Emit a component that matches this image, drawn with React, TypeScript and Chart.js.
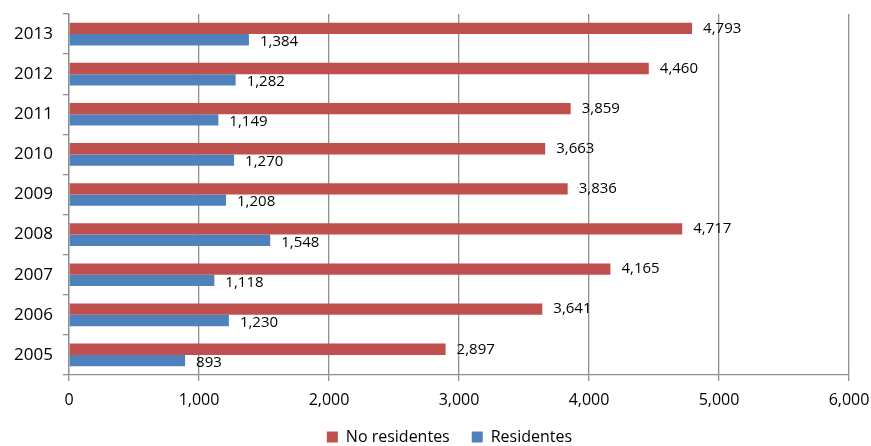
import React, { useEffect, useRef } from "react";
import { Chart, registerables } from "chart.js";

Chart.register(...registerables);

const categories = ["2013", "2012", "2011", "2010", "2009", "2008", "2007", "2006", "2005"];
const noResidentes = [4793, 4460, 3859, 3663, 3836, 4717, 4165, 3641, 2897];
const residentes = [1384, 1282, 1149, 1270, 1208, 1548, 1118, 1230, 893];
const xTicks = [0, 1000, 2000, 3000, 4000, 5000, 6000];

const FONT = "'Open Sans', 'DejaVu Sans', sans-serif";

const valueLabels = {
  id: "valueLabels",
  afterDatasetsDraw(chart: any) {
    const ctx = chart.ctx;
    ctx.save();
    ctx.font = `15px ${FONT}`;
    ctx.fillStyle = "#000";
    ctx.textAlign = "left";
    ctx.textBaseline = "middle";
    chart.data.datasets.forEach((ds: any, di: number) => {
      const meta = chart.getDatasetMeta(di);
      meta.data.forEach((bar: any, i: number) => {
        const v = ds.data[i];
        ctx.fillText(v.toLocaleString("en-US"), bar.x + 11, bar.y + (di === 1 ? 2 : 0));
      });
    });
    ctx.restore();
  },
};

const legendShift = {
  id: "legendShift",
  afterLayout(chart: any) {
    if (chart.legend) {
      chart.legend.left += 14;
      chart.legend.right += 14;
    }
  },
};

export default function App() {
  const ref = useRef<HTMLCanvasElement>(null);
  useEffect(() => {
    if (!ref.current) return;
    const chart = new Chart(ref.current, {
      type: "bar",
      data: {
        labels: categories,
        datasets: [
          { label: "No residentes", data: noResidentes, backgroundColor: "#C0504D", categoryPercentage: 0.565, barPercentage: 1.0 },
          { label: "Residentes", data: residentes, backgroundColor: "#4F81BD", categoryPercentage: 0.565, barPercentage: 1.0 },
        ],
      },
      options: {
        indexAxis: "y",
        animation: false,
        responsive: false,
        maintainAspectRatio: false,
        layout: { padding: { top: 14, right: 0, left: 0, bottom: 0 } },
        plugins: {
          tooltip: { enabled: false },
          legend: {
            position: "bottom",
            labels: {
              boxWidth: 11,
              boxHeight: 11,
              color: "#000",
              font: { family: FONT, size: 16 },
              padding: 22,
            },
          },
        },
        scales: {
          x: {
            min: 0,
            max: 6000,
            afterBuildTicks: (scale: any) => {
              scale.ticks = xTicks.map((v) => ({ value: v }));
            },
            afterFit: (scale: any) => {
              scale.height = 32;
              scale.paddingRight = 22;
              scale.paddingLeft = 0;
            },
            ticks: {
              color: "#000",
              font: { family: FONT, size: 16 },
              padding: 10,
              callback: (v: any) => Number(v).toLocaleString("en-US"),
            },
            grid: { color: "#8f8f8f", lineWidth: 1.3, tickLength: 6, drawTicks: true },
            border: { color: "#8f8f8f", width: 1.3 },
          },
          y: {
            afterFit: (scale: any) => {
              scale.width = 69;
              scale.paddingTop = 0;
              scale.paddingBottom = 0;
            },
            ticks: {
              color: "#000",
              font: { family: FONT, size: 17 },
              padding: 10,
            },
            grid: { offset: true, drawOnChartArea: false, color: "#8f8f8f", lineWidth: 1.3, tickLength: 6 },
            border: { color: "#8f8f8f", width: 1.3 },
          },
        },
      },
      plugins: [valueLabels, legendShift],
    });
    return () => chart.destroy();
  }, []);
  return (
    <div style={{ position: "fixed", left: 0, top: 0, width: 871, height: 446, overflow: "hidden", background: "#fff" }}>
      <canvas ref={ref} width={871} height={455} style={{ width: 871, height: 455 }} />
    </div>
  );
}
